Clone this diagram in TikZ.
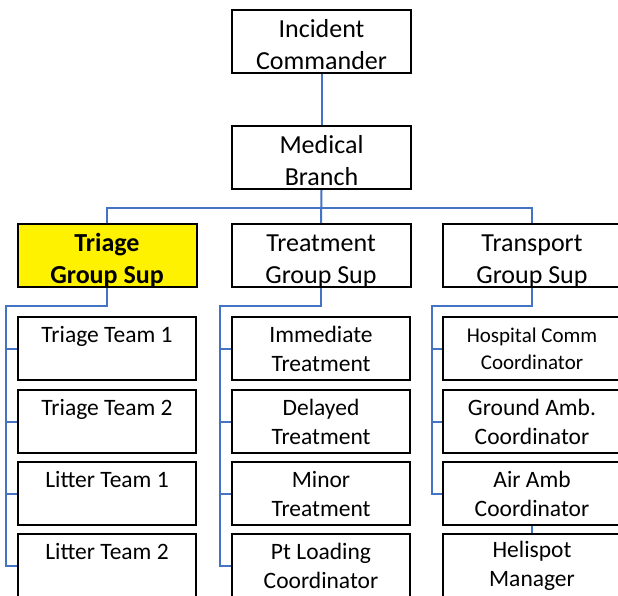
\documentclass[tikz,border=0pt]{standalone}
\usepackage{fontspec}
\setmainfont{Carlito}
\usepackage{tikz}
\definecolor{linkblue}{RGB}{68,114,196}
\tikzstyle{unit} = [draw, line width=2pt, rectangle, align=center,
    minimum height=63pt, inner sep=0pt]
\tikzstyle{head} = [unit, minimum width=179pt, text height=55pt, text depth=0pt,
    font=\fontsize{26}{32}\selectfont]
\tikzstyle{team} = [unit, minimum width=178pt, font=\fontsize{23.5}{29}\selectfont]
\tikzstyle{link} = [line width=2pt, draw=linkblue]

\begin{document}
\begin{tikzpicture}[x=1pt, y=-1pt]
    \useasboundingbox (0,0) rectangle (618,595);
    % command levels
    \node[head] (ic) at (321.5,41.5) {Incident \\ Commander};
    \node[head] (med) at (321.5,157.5) {Medical \\ Branch};
    \node[head, fill=yellow, font=\fontsize{26}{32}\selectfont\bfseries]
        (tri) at (107,255.5) {Triage \\ Group Sup};
    \node[head] (trt) at (321,255.5) {Treatment \\ Group Sup};
    \node[head] (trn) at (532,255.5) {Transport \\ Group Sup};
    % triage units
    \node[team] (tt1) at (107,348.5) {Triage Team 1 \\ ~};
    \node[team] (tt2) at (107,421.5) {Triage Team 2 \\ ~};
    \node[team] (lt1) at (107,493.5) {Litter Team 1 \\ ~};
    \node[team] (lt2) at (107,565.5) {Litter Team 2 \\ ~};
    % treatment units
    \node[team] (imm) at (321,348.5) {Immediate \\ Treatment};
    \node[team] (del) at (321,421.5) {Delayed \\ Treatment};
    \node[team] (mnr) at (321,493.5) {Minor \\ Treatment};
    \node[team] (ptl) at (321,565.5) {Pt Loading \\ Coordinator};
    % transport units
    \node[team, font=\fontsize{21}{27}\selectfont]
        (hsp) at (532,348.5) {Hospital Comm \\ Coordinator};
    \node[team] (gnd) at (532,421.5) {Ground Amb. \\ Coordinator};
    \node[team] (air) at (532,493.5) {Air Amb \\ Coordinator};
    \node[team] (heli) at (532,565.5) {Helispot \\ Manager};

    % connectors
    \coordinate (bus) at (321,208);
    \coordinate (tribus) at (6,306);
    \coordinate (trtbus) at (220,306);
    \coordinate (trnbus) at (432,306);
    \draw[link] (ic.south) -- (med.north);
    \draw[link] (med.south) -- (trt.north);
    \draw[link] (tri.north) |- (bus) -| (trn.north);
    \draw[link] (tri.south) |- (tribus) |- (lt2.west);
    \draw[link] (trt.south) |- (trtbus) |- (ptl.west);
    \draw[link] (trn.south) |- (trnbus) |- (air.west);
    \foreach \n in {tt1,tt2,lt1}
        \draw[link] (tribus |- \n.west) -- (\n.west);
    \foreach \n in {imm,del,mnr}
        \draw[link] (trtbus |- \n.west) -- (\n.west);
    \foreach \n in {hsp,gnd}
        \draw[link] (trnbus |- \n.west) -- (\n.west);
    \draw[link] (air.south) -- (heli.north);
\end{tikzpicture}
\end{document}
